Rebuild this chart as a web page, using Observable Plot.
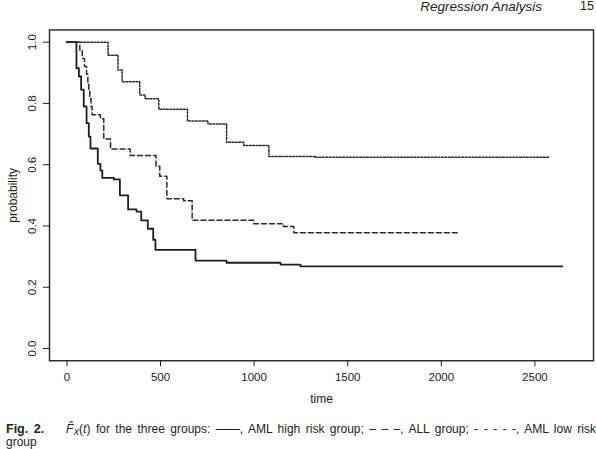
<!DOCTYPE html>
<html><head><meta charset="utf-8">
<script src="https://cdn.jsdelivr.net/npm/d3@7"></script>
<script src="https://cdn.jsdelivr.net/npm/@observablehq/plot@0.6"></script>
<style>
html,body{margin:0;padding:0;background:#fff;}
body{width:596px;height:449px;position:relative;overflow:hidden;font-family:"Liberation Sans",Arial,Helvetica,sans-serif;color:#222;}
#chart{position:absolute;top:0;left:0;}
#hdr{position:absolute;top:-1px;left:0;width:596px;height:20px;line-height:15px;}
#hdr .t{position:absolute;right:54px;top:0;font-style:italic;font-size:13.5px;}
#hdr .p{position:absolute;right:2px;top:0;font-size:12.5px;}
#cap{position:absolute;left:6px;top:423px;width:590px;font-size:12px;line-height:13px;}
#cap .l1{white-space:nowrap;text-align:justify;text-align-last:justify;}
#cap b{font-size:12.5px;}
#cap sub{font-size:8.5px;vertical-align:-2px;line-height:0;}
</style></head><body>
<div id="chart"></div>
<div id="hdr"><span class="t">Regression Analysis</span><span class="p">15</span></div>
<div id="cap"><div class="l1"><b>Fig. 2.</b>&nbsp;&nbsp;&nbsp; <i>F&#770;</i><sub><i>X</i></sub>(<i>t</i>) for the three groups: ——, AML high risk group; – – –, ALL group; - - - - -, AML low risk</div><div>group</div></div>
<script>
// AML high risk group (solid)
const amlHighTime = [0, 51, 64, 76, 90, 105, 117, 126, 165, 179, 189, 251, 283, 327, 372, 397, 432, 461, 473, 687, 853, 1141, 1248, 2646];
const amlHighProb = [1.0, 0.915, 0.888, 0.845, 0.790, 0.736, 0.692, 0.653, 0.603, 0.581, 0.557, 0.552, 0.500, 0.454, 0.447, 0.418, 0.391, 0.355, 0.322, 0.287, 0.280, 0.274, 0.268, 0.268];
// ALL group (dashed)
const allTime = [0, 69, 82, 94, 105, 112, 117, 122, 129, 135, 179, 197, 233, 338, 476, 496, 534, 624, 669, 998, 1157, 1212, 2085];
const allProb = [1.0, 0.974, 0.947, 0.921, 0.895, 0.868, 0.842, 0.816, 0.789, 0.763, 0.750, 0.684, 0.651, 0.630, 0.595, 0.562, 0.489, 0.482, 0.419, 0.407, 0.398, 0.378, 0.378];
// AML low risk group (dotted)
const amlLowTime = [0, 220, 273, 295, 389, 418, 491, 644, 754, 853, 945, 1079, 1328, 2574];
const amlLowProb = [1.0, 0.957, 0.909, 0.871, 0.828, 0.815, 0.781, 0.743, 0.733, 0.673, 0.663, 0.627, 0.624, 0.624];

const xTicks = [0, 500, 1000, 1500, 2000, 2500];
const yTicks = [0.0, 0.2, 0.4, 0.6, 0.8, 1.0];
const xLabel = "time";
const yLabel = "probability";

const toRows = (ts, ps) => ts.map((t, i) => ({t, p: ps[i]}));
const high = toRows(amlHighTime, amlHighProb);
const all = toRows(allTime, allProb);
const low = toRows(amlLowTime, amlLowProb);

const ink = "#222";
const chart = Plot.plot({
  width: 596, height: 412,
  marginLeft: 49, marginRight: 3, marginTop: 29.45, marginBottom: 51.75,
  style: {fontFamily: "'Liberation Sans', Arial, sans-serif", color: ink, background: "#fff", fontSize: "11.5px"},
  x: {domain: [-93, 2813]},
  y: {domain: [-0.04, 1.04]},
  marks: [
    Plot.axisX({ticks: xTicks, tickSize: 6, tickPadding: 6, fontSize: 11.5, tickFormat: d => String(d), label: null}),
    Plot.axisY({ticks: yTicks, tickSize: 6, tickFormat: () => "", label: null}),
    Plot.text(yTicks, {y: d => d, text: d => d.toFixed(1), frameAnchor: "left", rotate: -90, dx: -17, textAnchor: "middle", lineAnchor: "middle", fontSize: 11.5, fill: ink}),
    Plot.text([xLabel], {frameAnchor: "bottom", dy: 38, text: d => d, fontSize: 12, textAnchor: "middle", lineAnchor: "middle", fill: ink}),
    Plot.text([yLabel], {frameAnchor: "left", dx: -36.5, rotate: -90, text: d => d, fontSize: 12, textAnchor: "middle", lineAnchor: "middle", fill: ink}),
    Plot.line(low, {x: "t", y: "p", curve: "step-after", stroke: "#2a2a2a", strokeWidth: 1.5, strokeDasharray: "1.8,1.6"}),
    Plot.line(all, {x: "t", y: "p", curve: "step-after", stroke: "#2a2a2a", strokeWidth: 1.5, strokeDasharray: "5,3"}),
    Plot.line(high, {x: "t", y: "p", curve: "step-after", stroke: "#1e1e1e", strokeWidth: 1.8}),
    Plot.frame({stroke: "#222", strokeWidth: 1.4})
  ]
});
document.getElementById("chart").appendChild(chart);
</script>
</body></html>
